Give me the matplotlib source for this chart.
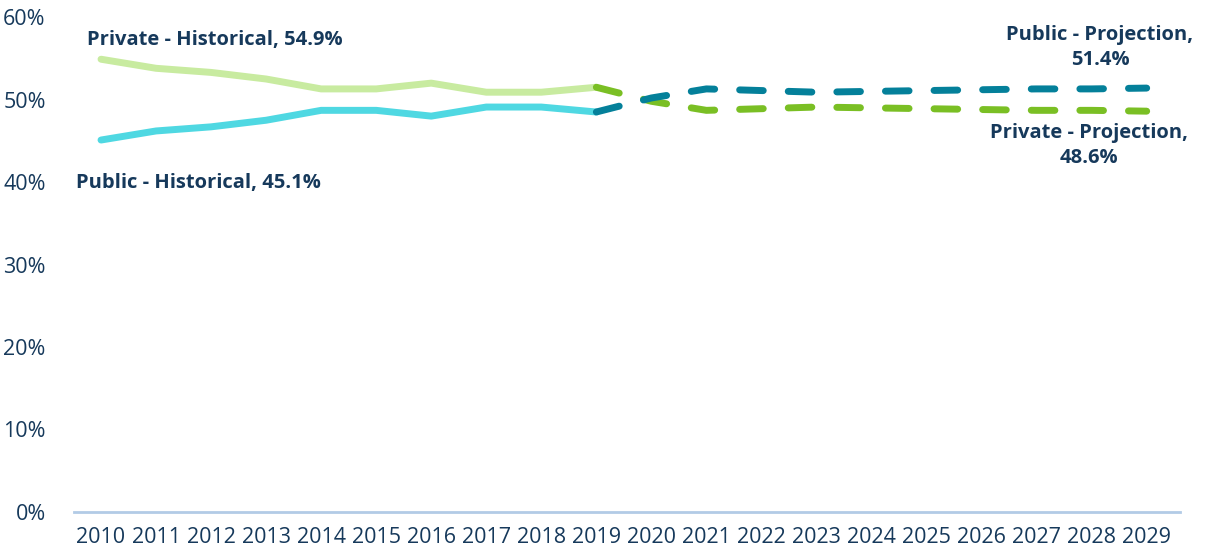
import matplotlib.pyplot as plt
import matplotlib.ticker as ticker

years_hist = [2010, 2011, 2012, 2013, 2014, 2015, 2016, 2017, 2018, 2019]
private_hist = [54.9, 53.8, 53.3, 52.5, 51.3, 51.3, 52.0, 50.9, 50.9, 51.5]
public_hist = [45.1, 46.2, 46.7, 47.5, 48.7, 48.7, 48.0, 49.1, 49.1, 48.5]

years_proj = [2019, 2020, 2021, 2022, 2023, 2024, 2025, 2026, 2027, 2028, 2029]
private_proj = [51.5, 49.8, 48.7, 48.9, 49.1, 49.0, 48.9, 48.8, 48.7, 48.7, 48.6]
public_proj = [48.5, 50.2, 51.3, 51.1, 50.9, 51.0, 51.1, 51.2, 51.3, 51.3, 51.4]

all_years = list(range(2010, 2030))
yticks = [0, 10, 20, 30, 40, 50, 60]

navy = '#16395b'
plt.rcParams['font.family'] = ['Open Sans', 'DejaVu Sans']


def plot():
    fig = plt.figure(figsize=(12.05, 5.54), dpi=100)
    ax = fig.add_axes([0.061, 0.076, 0.918, 0.893])

    ax.plot(years_hist, private_hist, color='#c8eba0', linewidth=5,
            solid_capstyle='round', solid_joinstyle='round')
    ax.plot(years_hist, public_hist, color='#4fd8e2', linewidth=5,
            solid_capstyle='round', solid_joinstyle='round')
    ax.plot(years_proj, private_proj, color='#7abf24', linewidth=5,
            linestyle=(0, (3.4, 3.6)), dash_capstyle='round')
    ax.plot(years_proj, public_proj, color='#04809a', linewidth=5,
            linestyle=(0, (3.4, 3.6)), dash_capstyle='round')

    ax.set_xlim(2009.5, 2029.6)
    ax.set_ylim(0, 60)
    ax.set_xticks(all_years)
    ax.set_yticks(yticks)
    ax.yaxis.set_major_formatter(ticker.FormatStrFormatter('%.0f%%'))
    ax.tick_params(axis='both', length=0, labelsize=15.5, labelcolor=navy)
    ax.tick_params(axis='x', pad=11)
    ax.tick_params(axis='y', pad=20)

    for side in ['top', 'right', 'left']:
        ax.spines[side].set_visible(False)
    ax.spines['bottom'].set_color('#b2cbe6')
    ax.spines['bottom'].set_linewidth(2)

    lab = dict(color=navy, fontsize=14.5, fontweight='bold')
    ax.text(2009.75, 57.2, 'Private - Historical, 54.9%', ha='left', va='center', **lab)
    ax.text(2009.55, 39.9, 'Public - Historical, 45.1%', ha='left', va='center', **lab)
    ax.text(2028.15, 56.3, 'Public - Projection,\n51.4%', ha='center', va='center',
            linespacing=1.35, **lab)
    ax.text(2027.95, 44.4, 'Private - Projection,\n48.6%', ha='center', va='center',
            linespacing=1.35, **lab)

    plt.savefig('out.png', dpi=100)


if __name__ == '__main__':
    plot()
